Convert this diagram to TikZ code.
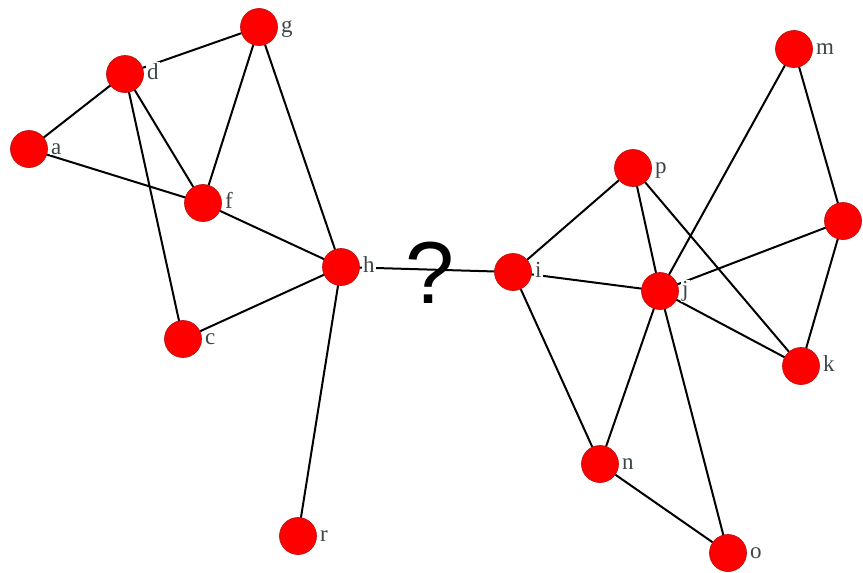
\documentclass[tikz,border=0pt]{standalone}
\usepackage{fontspec}
\setmainfont{Liberation Serif}
\newfontfamily\qfont{Liberation Sans}
\definecolor{labelgray}{RGB}{60,70,70}
\definecolor{nodered}{RGB}{255,0,0}
\definecolor{noderim}{RGB}{190,20,20}
\begin{document}
\begin{tikzpicture}[x=1pt,y=-1pt,
  vert/.style={circle,fill=nodered,draw=noderim,line width=0.7pt,minimum size=37pt,inner sep=0pt},
  lab/.style={anchor=base west,fill=white,inner sep=1pt,text=labelgray,font=\fontsize{23}{23}\selectfont},
  edge/.style={line width=2pt,black}]
\useasboundingbox (0,0) rectangle (863,573);
% vertex positions
\coordinate (pa) at (29,149);
\coordinate (pc) at (183,339);
\coordinate (pd) at (125,74);
\coordinate (pf) at (203,203);
\coordinate (pg) at (259,27);
\coordinate (ph) at (341,267);
\coordinate (pr) at (298,536);
\coordinate (pi) at (513,272);
\coordinate (pp) at (633,168);
\coordinate (pj) at (660,291);
\coordinate (pm) at (794,49);
\coordinate (pe) at (843,221);
\coordinate (pk) at (801,366);
\coordinate (pn) at (600,464);
\coordinate (po) at (728,553);
% edges
\draw[edge] (pd) -- (pg);
\draw[edge] (pd) -- (pa);
\draw[edge] (pd) -- (pf);
\draw[edge] (pd) -- (pc);
\draw[edge] (pa) -- (pf);
\draw[edge] (pg) -- (pf);
\draw[edge] (pg) -- (ph);
\draw[edge] (pf) -- (ph);
\draw[edge] (pc) -- (ph);
\draw[edge] (ph) -- (pr);
\draw[edge] (ph) -- (pi);
\draw[edge] (pi) -- (pp);
\draw[edge] (pi) -- (pj);
\draw[edge] (pi) -- (pn);
\draw[edge] (pp) -- (pj);
\draw[edge] (pp) -- (pk);
\draw[edge] (pj) -- (pm);
\draw[edge] (pj) -- (pe);
\draw[edge] (pj) -- (pk);
\draw[edge] (pj) -- (pn);
\draw[edge] (pj) -- (po);
\draw[edge] (pm) -- (pe);
\draw[edge] (pe) -- (pk);
\draw[edge] (pn) -- (po);
% vertices
\foreach \v in {a,c,d,f,g,h,r,i,p,j,m,e,k,n,o}
  \node[vert] (\v) at (p\v) {};
% labels
\foreach \v in {a,c,d,f,g,h,r,i,p,j,m,k,n,o}
  \node[lab] (l\v) at ([shift={(21,5)}]p\v) {\v};
% question mark
\node[anchor=base,inner sep=0pt,font=\qfont\fontsize{88}{88}\selectfont] (q) at (430,303) {?};
\end{tikzpicture}
\end{document}
